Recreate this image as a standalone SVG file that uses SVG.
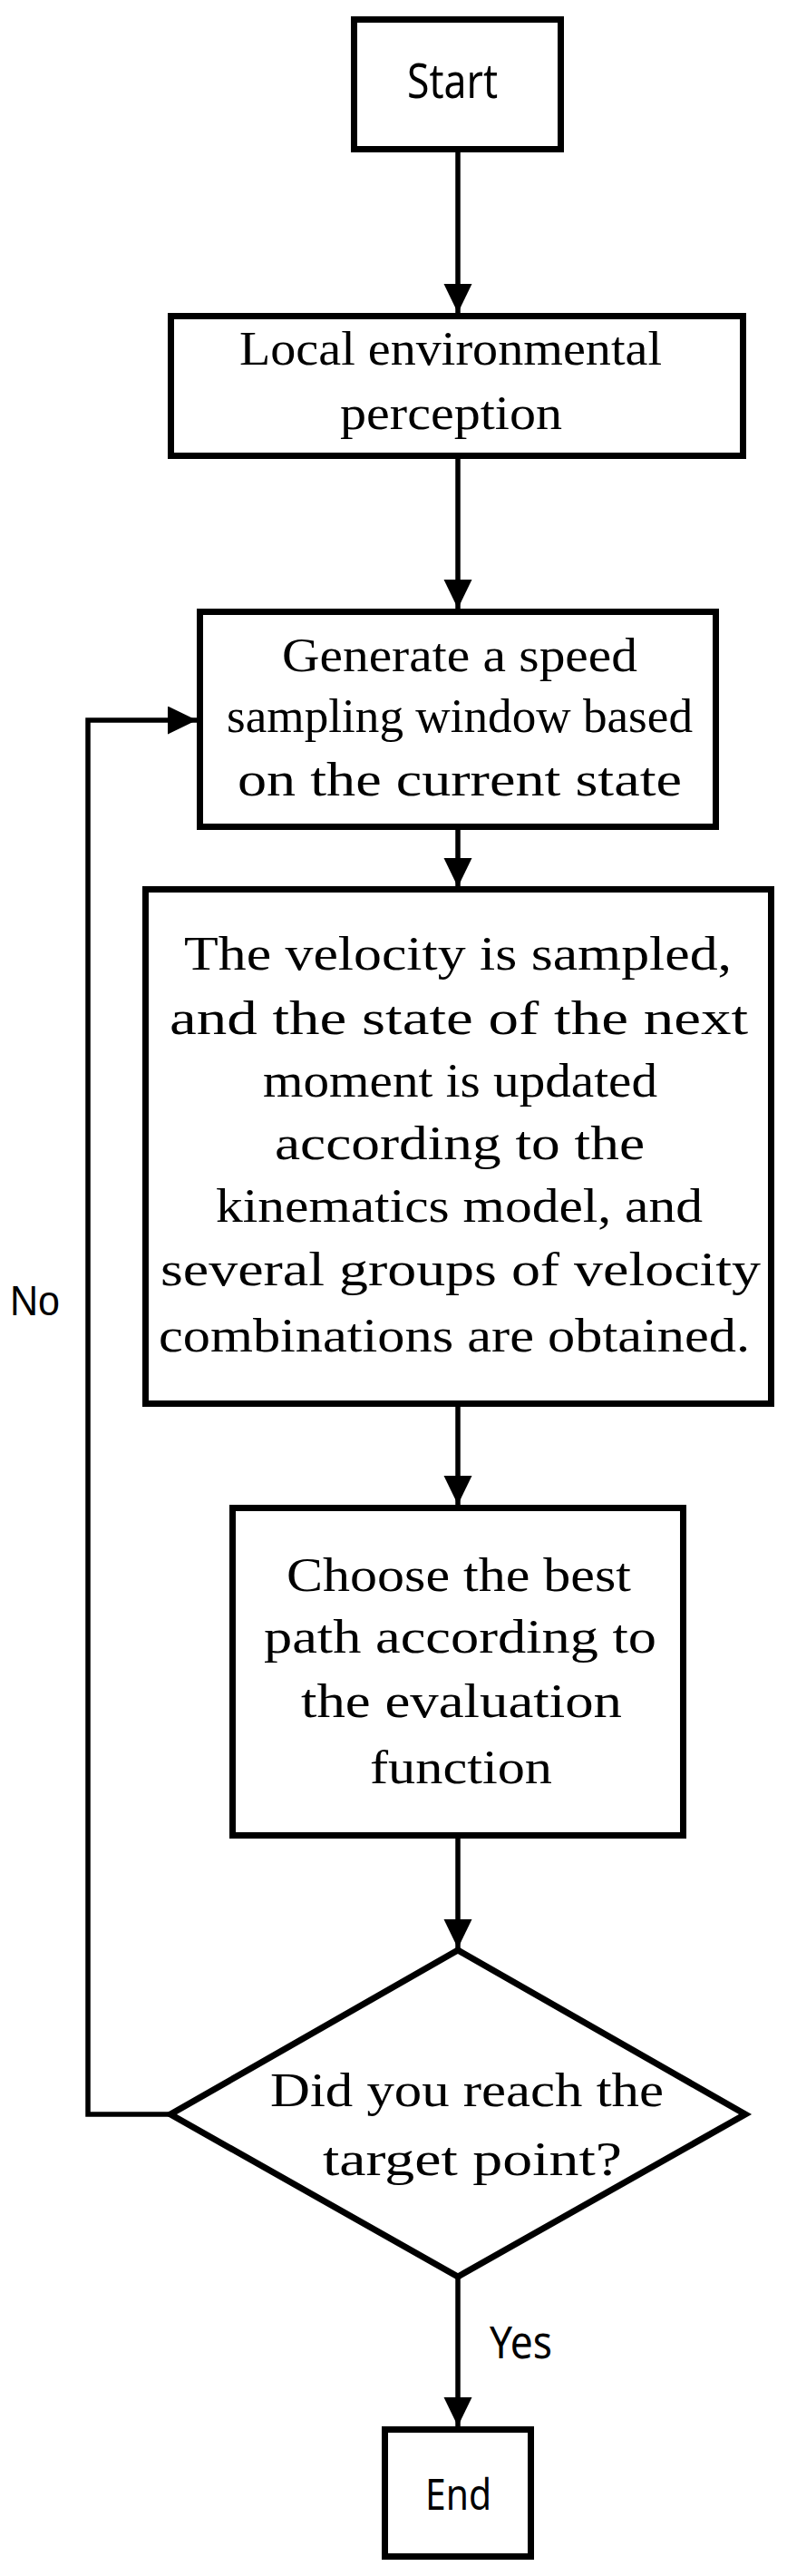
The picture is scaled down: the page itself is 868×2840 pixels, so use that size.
<svg xmlns="http://www.w3.org/2000/svg" width="868" height="2840" viewBox="0 0 868 2840">
<style>
.box{fill:#fff;stroke:#000;stroke-width:7}
.con{fill:none;stroke:#000;stroke-width:5.5}
.t{font-family:"Liberation Serif","DejaVu Serif",serif;font-size:53px;fill:#000}
.s{font-family:"Noto Sans","DejaVu Sans",sans-serif;fill:#000}
.a{font-family:"Liberation Sans",Arial,sans-serif;fill:#000}
</style>
<defs>
<marker id="arr" markerUnits="userSpaceOnUse" markerWidth="34" markerHeight="32" refX="32" refY="15.5" orient="auto">
<path d="M0,0 L32,15.5 L0,31 Z" fill="#000"/>
</marker>
</defs>
<rect width="868" height="2840" fill="#fff"/>
<g id="connectors">
<line class="con" x1="505" y1="168" x2="505" y2="345" marker-end="url(#arr)"/>
<line class="con" x1="505" y1="506" x2="505" y2="671" marker-end="url(#arr)"/>
<line class="con" x1="505" y1="915" x2="505" y2="978" marker-end="url(#arr)"/>
<line class="con" x1="505" y1="1551" x2="505" y2="1659" marker-end="url(#arr)"/>
<line class="con" x1="505" y1="2027" x2="505" y2="2148" marker-end="url(#arr)"/>
<line class="con" x1="505" y1="2512" x2="505" y2="2675" marker-end="url(#arr)"/>
<polyline class="con" points="188,2331 97,2331 97,794 217,794" marker-end="url(#arr)"/>
<text class="a" x="11" y="1450" font-size="46" textLength="55" lengthAdjust="spacingAndGlyphs">No</text>
<text class="s" x="540" y="2600" font-size="49" textLength="69" lengthAdjust="spacingAndGlyphs">Yes</text>
</g>
<g id="start">
<rect class="box" x="390.5" y="21.5" width="228" height="143"/>
<text class="s" x="449" y="108" font-size="52" textLength="100" lengthAdjust="spacingAndGlyphs">Start</text>
</g>
<g id="perception">
<rect class="box" x="188.5" y="348.5" width="631" height="154"/>
<text class="t" x="264" y="402" textLength="466" lengthAdjust="spacingAndGlyphs">Local environmental</text>
<text class="t" x="375" y="473" textLength="245" lengthAdjust="spacingAndGlyphs">perception</text>
</g>
<g id="window">
<rect class="box" x="220.5" y="674.5" width="569" height="237"/>
<text class="t" x="311" y="740" textLength="392" lengthAdjust="spacingAndGlyphs">Generate a speed</text>
<text class="t" x="250" y="807" textLength="514" lengthAdjust="spacingAndGlyphs">sampling window based</text>
<text class="t" x="262" y="877" textLength="490" lengthAdjust="spacingAndGlyphs">on the current state</text>
</g>
<g id="sample">
<rect class="box" x="160.5" y="980.5" width="690" height="567"/>
<text class="t" x="203" y="1069" textLength="604" lengthAdjust="spacingAndGlyphs">The velocity is sampled,</text>
<text class="t" x="187" y="1140" textLength="638" lengthAdjust="spacingAndGlyphs">and the state of the next</text>
<text class="t" x="290" y="1209" textLength="435" lengthAdjust="spacingAndGlyphs">moment is updated</text>
<text class="t" x="303" y="1278" textLength="408" lengthAdjust="spacingAndGlyphs">according to the</text>
<text class="t" x="238" y="1347" textLength="537" lengthAdjust="spacingAndGlyphs">kinematics model, and</text>
<text class="t" x="177" y="1417" textLength="662" lengthAdjust="spacingAndGlyphs">several groups of velocity</text>
<text class="t" x="175" y="1490" textLength="652" lengthAdjust="spacingAndGlyphs">combinations are obtained.</text>
</g>
<g id="choose">
<rect class="box" x="256.5" y="1662.5" width="497" height="361"/>
<text class="t" x="316" y="1754" textLength="380" lengthAdjust="spacingAndGlyphs">Choose the best</text>
<text class="t" x="291" y="1822" textLength="433" lengthAdjust="spacingAndGlyphs">path according to</text>
<text class="t" x="332" y="1893" textLength="354" lengthAdjust="spacingAndGlyphs">the evaluation</text>
<text class="t" x="408" y="1966" textLength="201" lengthAdjust="spacingAndGlyphs">function</text>
</g>
<g id="decision">
<polygon class="box" points="505,2150 822,2331 505,2510 188,2331"/>
<text class="t" x="298" y="2322" textLength="434" lengthAdjust="spacingAndGlyphs">Did you reach the</text>
<text class="t" x="356" y="2398" textLength="330" lengthAdjust="spacingAndGlyphs">target point?</text>
</g>
<g id="end">
<rect class="box" x="424.5" y="2678.5" width="161" height="140"/>
<text class="s" x="469" y="2767" font-size="47" textLength="73" lengthAdjust="spacingAndGlyphs">End</text>
</g>
</svg>
